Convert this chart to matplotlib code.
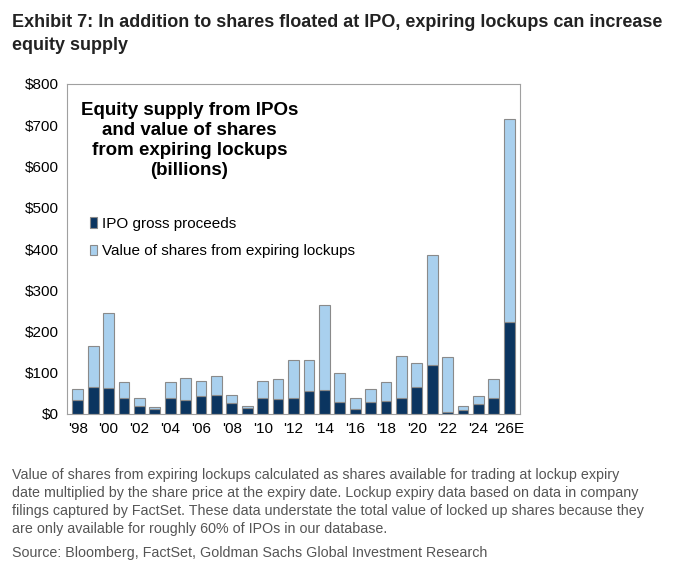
import matplotlib
matplotlib.use("Agg")
import matplotlib.pyplot as plt
import numpy as np

years = ["'98","'99","'00","'01","'02","'03","'04","'05","'06","'07","'08","'09","'10","'11","'12","'13","'14","'15","'16","'17","'18","'19","'20","'21","'22","'23","'24","'25","'26E"]
ipo = [35,65,63,38,20,12,40,33,43,47,27,15,38,36,40,56,57,28,12,28,32,40,65,120,5,10,25,40,222]
total = [60,165,245,77,38,17,77,87,81,93,46,20,80,84,130,130,265,100,38,60,78,140,123,385,137,20,44,86,715]
lockup = [t - i for t, i in zip(total, ipo)]

plt.rcParams['font.family'] = ['Liberation Sans', 'DejaVu Sans']
fig = plt.figure(figsize=(7, 5.75), dpi=100)
ax = fig.add_axes([67/700, 1-414/575, (520-67)/700, (414-84)/575])
x = np.arange(len(years))
ec = '#8a8a8a'
ax.bar(x, ipo, width=0.7, color='#0b3560', edgecolor=ec, linewidth=0.8, label='IPO gross proceeds')
ax.bar(x, lockup, bottom=ipo, width=0.7, color='#a9d0ee', edgecolor=ec, linewidth=0.8, label='Value of shares from expiring lockups')
ax.set_ylim(0, 800)
ax.set_xlim(-0.7, len(years) - 0.3)
ax.set_yticks(range(0, 801, 100))
ax.set_yticklabels([f"${v}" for v in range(0, 801, 100)], fontsize=11)
ax.set_xticks(x[::2])
ax.set_xticklabels(years[::2], fontsize=11)
ax.tick_params(length=0, pad=6)
for s in ax.spines.values():
    s.set_color('#a0a0a0')
ax.text(0.27, 0.945, "Equity supply from IPOs\nand value of shares\nfrom expiring lockups\n(billions)", transform=ax.transAxes,
        ha='center', va='top', fontsize=13.5, fontweight='bold', linespacing=1.22)
ax.legend(loc='upper left', bbox_to_anchor=(0.02, 0.64), frameon=False, fontsize=11, handlelength=0.5, handleheight=0.7, handletextpad=0.3, labelspacing=0.9)

fig.text(12/700, 1-14/575, "Exhibit 7: In addition to shares floated at IPO, expiring lockups can increase\nequity supply", fontsize=13, fontweight='bold', va='top', ha='left', linespacing=1.5, color='#222222')
fig.text(12/700, 1-468/575, "Value of shares from expiring lockups calculated as shares available for trading at lockup expiry\ndate multiplied by the share price at the expiry date. Lockup expiry data based on data in company\nfilings captured by FactSet. These data understate the total value of locked up shares because they\nare only available for roughly 60% of IPOs in our database.",
         fontsize=10.3, va='top', ha='left', color='#555555', linespacing=1.35)
fig.text(12/700, 1-546/575, "Source: Bloomberg, FactSet, Goldman Sachs Global Investment Research", fontsize=10.3, va='top', ha='left', color='#555555')
fig.savefig("out.png", dpi=100)
